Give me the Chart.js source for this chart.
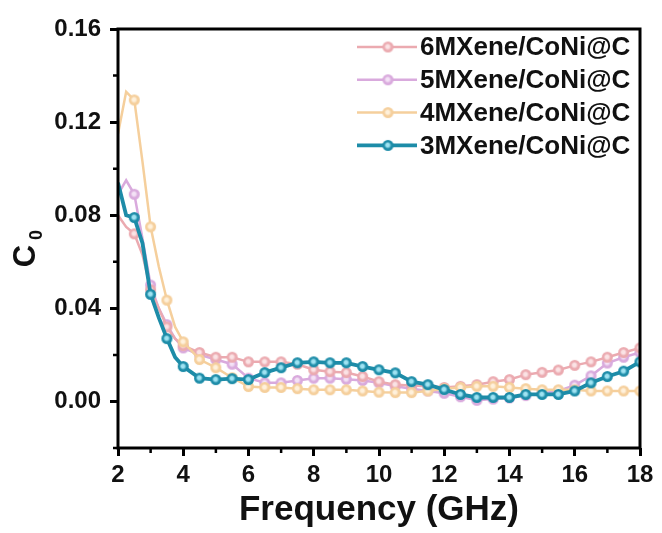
<!DOCTYPE html>
<html>
<head>
<meta charset="utf-8">
<script src="https://cdn.jsdelivr.net/npm/chart.js@4.4.0/dist/chart.umd.min.js"></script>
<style>
  body { margin: 0; background: #fff; }
  #wrap { width: 662px; height: 533px; }
</style>
</head>
<body>
<div id="wrap"><canvas id="c0Chart" width="662" height="533"></canvas></div>
<script>
const freq = [2, 2.25, 2.5, 2.75, 3, 3.25, 3.5, 3.75, 4, 4.5, 5, 5.5, 6, 6.5, 7, 7.5, 8, 8.5, 9, 9.5,
  10, 10.5, 11, 11.5, 12, 12.5, 13, 13.5, 14, 14.5, 15, 15.5, 16, 16.5, 17, 17.5, 18];

const c0_6MX = [0.080, 0.075, 0.072, 0.063, 0.048, 0.040, 0.032, 0.027, 0.024, 0.021, 0.019, 0.019, 0.017, 0.017, 0.017, 0.016, 0.0136, 0.0128, 0.0124, 0.0107,
  0.0085, 0.0072, 0.0068, 0.0065, 0.006, 0.0065, 0.0072, 0.0085, 0.0094, 0.0115, 0.0125, 0.0135, 0.0155, 0.017, 0.019, 0.021, 0.023];
const c0_5MX = [0.089, 0.095, 0.089, 0.070, 0.050, 0.040, 0.033, 0.027, 0.023, 0.020, 0.018, 0.016, 0.010, 0.008, 0.008, 0.009, 0.010, 0.010, 0.0095, 0.009,
  0.008, 0.0065, 0.0055, 0.0045, 0.0035, 0.002, 0.0005, 0.001, 0.0015, 0.0025, 0.0035, 0.0045, 0.007, 0.011, 0.0165, 0.019, 0.021];
const c0_4MX = [0.115, 0.133, 0.1295, 0.103, 0.075, 0.058, 0.0435, 0.032, 0.0256, 0.018, 0.0145, 0.0102, 0.0064, 0.006, 0.006, 0.0055, 0.005, 0.005, 0.005, 0.0045,
  0.004, 0.0038, 0.0038, 0.0045, 0.0055, 0.006, 0.0065, 0.0065, 0.006, 0.0055, 0.005, 0.005, 0.005, 0.0045, 0.0045, 0.0045, 0.0045];
const c0_3MX = [0.094, 0.080, 0.079, 0.068, 0.046, 0.036, 0.027, 0.019, 0.015, 0.010, 0.0094, 0.0098, 0.0094, 0.0124, 0.0145, 0.0166, 0.017, 0.0166, 0.0166, 0.015,
  0.0136, 0.0123, 0.0085, 0.0072, 0.0051, 0.003, 0.0017, 0.0017, 0.0017, 0.003, 0.003, 0.003, 0.0045, 0.008, 0.0107, 0.013, 0.017];

const seriesNames = ['6MXene/CoNi@C', '5MXene/CoNi@C', '4MXene/CoNi@C', '3MXene/CoNi@C'];
const xTicks = [2, 4, 6, 8, 10, 12, 14, 16, 18];
const yTicks = [0, 0.04, 0.08, 0.12, 0.16];
const xMinor = [3, 5, 7, 9, 11, 13, 15, 17];
const yMinor = [-0.02, 0.02, 0.06, 0.10, 0.14];

const FONT = "'Liberation Sans', Arial, sans-serif";
Chart.defaults.font.family = FONT;
Chart.defaults.color = '#111';

// small shaded ball used as the marker
function makeBall(color, light, r) {
  const c = document.createElement('canvas');
  const s = Math.ceil(r * 2 + 2);
  c.width = s; c.height = s;
  const g = c.getContext('2d');
  const grad = g.createRadialGradient(s / 2 - 0.5, s / 2 - 0.5, 0, s / 2, s / 2, r);
  grad.addColorStop(0, light);
  grad.addColorStop(0.3, light);
  grad.addColorStop(0.65, color);
  grad.addColorStop(1, color);
  g.fillStyle = grad;
  g.beginPath();
  g.arc(s / 2, s / 2, r, 0, Math.PI * 2);
  g.fill();
  return c;
}

function toPoints(arr) {
  return freq.map((f, i) => ({ x: f, y: arr[i] }));
}

function markerRadius(ctx) {
  const f = freq[ctx.dataIndex];
  return (Number.isInteger(f * 2) && f > 2) ? 5 : 0;
}

const colors = ['#EBAAB0', '#D9AADD', '#F5CF9C', '#1D8CA8'];
const lights = ['#FBE3E5', '#F4E2F6', '#FFF1DC', '#9FE3F2'];
const widths = [2.5, 2.5, 2.5, 3.8];
const values = [c0_6MX, c0_5MX, c0_4MX, c0_3MX];
const orders = [2, 3, 1, 0];

const datasets = values.map((v, i) => ({
  label: seriesNames[i],
  data: toPoints(v),
  borderColor: colors[i],
  backgroundColor: colors[i],
  borderWidth: widths[i],
  pointStyle: makeBall(colors[i], lights[i], 5.5),
  pointRadius: markerRadius,
  pointHoverRadius: markerRadius,
  tension: 0,
  fill: false,
  order: orders[i]
}));

const framePlugin = {
  id: 'frame',
  afterDatasetsDraw(chart) {
    const { ctx, chartArea: a, scales } = chart;
    ctx.save();
    ctx.strokeStyle = '#000';
    ctx.lineWidth = 3;
    ctx.strokeRect(a.left, a.top, a.right - a.left, a.bottom - a.top);
    // minor ticks
    ctx.lineWidth = 2.5;
    ctx.beginPath();
    xMinor.forEach(v => {
      const x = scales.x.getPixelForValue(v);
      ctx.moveTo(x, a.bottom);
      ctx.lineTo(x, a.bottom + 5);
    });
    yMinor.forEach(v => {
      const y = scales.y.getPixelForValue(v);
      ctx.moveTo(a.left, y);
      ctx.lineTo(a.left - 5, y);
    });
    ctx.stroke();
    ctx.restore();
  }
};

const legendPlugin = {
  id: 'innerLegend',
  afterDraw(chart) {
    const { ctx } = chart;
    ctx.save();
    chart.data.datasets.forEach((ds, i) => {
      const y = 47 + i * 32.8;
      ctx.strokeStyle = ds.borderColor;
      ctx.lineWidth = ds.borderWidth;
      ctx.beginPath();
      ctx.moveTo(357, y);
      ctx.lineTo(417, y);
      ctx.stroke();
      const img = ds.pointStyle;
      ctx.drawImage(img, 388 - img.width / 2, y - img.height / 2);
      ctx.fillStyle = '#111';
      ctx.font = 'bold 26px ' + FONT;
      ctx.textAlign = 'left';
      ctx.textBaseline = 'middle';
      ctx.fillText(ds.label, 420, y + 1);
    });
    ctx.restore();
  }
};

const yTitlePlugin = {
  id: 'yTitle',
  afterDraw(chart) {
    const { ctx } = chart;
    ctx.save();
    ctx.translate(26, 256);
    ctx.rotate(-Math.PI / 2);
    ctx.fillStyle = '#111';
    ctx.textBaseline = 'middle';
    ctx.textAlign = 'center';
    ctx.font = 'bold 31px ' + FONT;
    ctx.fillText('C', 0, 0);
    ctx.font = 'bold 18px ' + FONT;
    ctx.fillText('0', 21, 11);
    ctx.restore();
  }
};

new Chart(document.getElementById('c0Chart'), {
  type: 'line',
  data: { datasets },
  options: {
    responsive: false,
    animation: false,
    events: [],
    layout: { padding: { left: 0, top: 29, right: 22, bottom: 0 } },
    plugins: { legend: { display: false }, tooltip: { enabled: false } },
    scales: {
      x: {
        type: 'linear',
        min: 2,
        max: 18,
        afterBuildTicks: s => { s.ticks = xTicks.map(v => ({ value: v })); },
        afterFit: s => { s.height = 85; },
        border: { display: false },
        grid: { drawOnChartArea: false, drawTicks: true, tickLength: 8, tickWidth: 3, tickColor: '#000' },
        ticks: { font: { size: 24, weight: 'bold' }, padding: 5, maxRotation: 0, color: '#111' },
        title: {
          display: true,
          text: 'Frequency (GHz)',
          font: { size: 35, weight: 'bold' },
          color: '#111',
          padding: { top: 0, bottom: 2 }
        }
      },
      y: {
        type: 'linear',
        min: -0.02,
        max: 0.16,
        afterBuildTicks: s => { s.ticks = yTicks.map(v => ({ value: v })); },
        afterFit: s => { s.width = 118; },
        border: { display: false },
        grid: { drawOnChartArea: false, drawTicks: true, tickLength: 8, tickWidth: 3, tickColor: '#000' },
        ticks: {
          font: { size: 24, weight: 'bold' },
          padding: 9,
          color: '#111',
          callback: v => v.toFixed(2)
        }
      }
    }
  },
  plugins: [framePlugin, legendPlugin, yTitlePlugin]
});
</script>
</body>
</html>
